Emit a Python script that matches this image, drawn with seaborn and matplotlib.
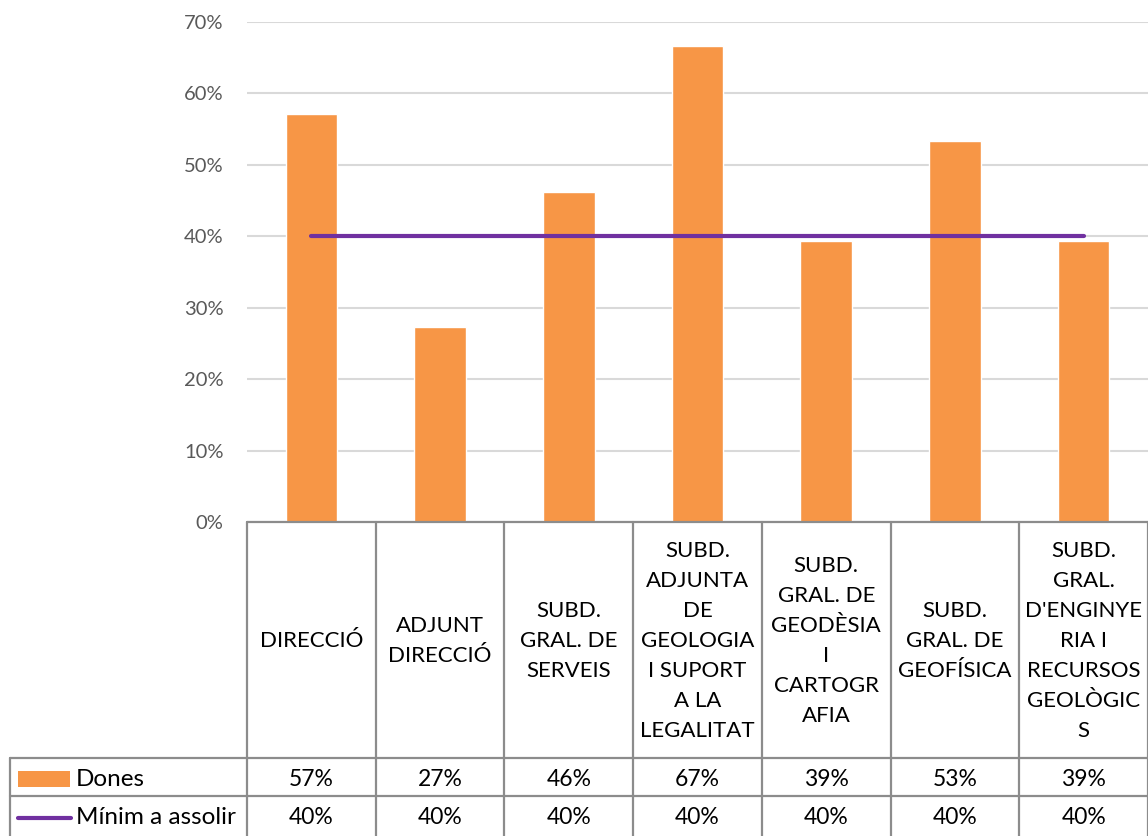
import matplotlib
matplotlib.use("Agg")
import matplotlib.pyplot as plt
from matplotlib.ticker import PercentFormatter
from matplotlib.patches import Rectangle
import seaborn as sns
import pandas as pd

# Units of the organisation (header text wraps the way it is shown in the table)
categories = [
    "DIRECCIÓ",
    "ADJUNT\nDIRECCIÓ",
    "SUBD.\nGRAL. DE\nSERVEIS",
    "SUBD.\nADJUNTA\nDE\nGEOLOGIA\nI SUPORT\nA LA\nLEGALITAT",
    "SUBD.\nGRAL. DE\nGEODÈSIA\nI\nCARTOGR\nAFIA",
    "SUBD.\nGRAL. DE\nGEOFÍSICA",
    "SUBD.\nGRAL.\nD'ENGINYE\nRIA I\nRECURSOS\nGEOLÒGIC\nS",
]
dones = [0.571, 0.273, 0.462, 0.667, 0.394, 0.533, 0.394]
minim = [0.40, 0.40, 0.40, 0.40, 0.40, 0.40, 0.40]
series_names = ["Dones", "Mínim a assolir"]
y_ticks = [0.0, 0.1, 0.2, 0.3, 0.4, 0.5, 0.6, 0.7]

ORANGE = "#F79646"
PURPLE = "#7030A0"
GRID = "#D9D9D9"
BORDER = "#8C8C8C"
TICK = "#595959"

sns.set_theme(style="white")
plt.rcParams["font.family"] = ["Lato", "DejaVu Sans"]

W, H = 1148, 836
fig = plt.figure(figsize=(W / 100, H / 100), dpi=100)

# chart area: from x=247px to the right edge, y from 22px to 522px (top-down)
ax = fig.add_axes([247 / W, (H - 522) / H, (W - 247) / W, 500 / H])
df = pd.DataFrame({"cat": categories, "val": dones})
sns.barplot(data=df, x="cat", y="val", color=ORANGE, width=0.4,
            saturation=1, ax=ax, zorder=3)
sns.lineplot(x=list(range(len(minim))), y=minim, color=PURPLE,
             linewidth=3.0, ax=ax, zorder=4, solid_capstyle="round")

ax.set_xlim(-0.5, len(categories) - 0.5)
ax.set_ylim(0, 0.7)
ax.set_yticks(y_ticks)
ax.yaxis.set_major_formatter(PercentFormatter(1.0, decimals=0))
ax.tick_params(axis="y", length=0, pad=17, labelsize=14.5, labelcolor=TICK)
ax.set_xticks([])
ax.set_xlabel("")
ax.set_ylabel("")
ax.grid(axis="y", color=GRID, linewidth=1.5, zorder=0)
for s in ax.spines.values():
    s.set_visible(False)

# data table below the chart; y measured in pixels downward from the chart base
tax = fig.add_axes([247 / W, 0, (W - 247) / W, (H - 522) / H])
tax.set_xlim(ax.get_xlim())
tax.set_ylim(H - 522, 0)
tax.axis("off")

col_w = (W - 247) / len(categories)
left_x = -0.5 + (10 - 247) / col_w
right_x = len(categories) - 0.5
header_bottom = 236
row_h = 38
row_bottoms = [header_bottom + row_h, header_bottom + 2 * row_h]

lkw = dict(color=BORDER, linewidth=1.6, clip_on=False, zorder=5)
tax.plot([-0.5, right_x], [0, 0], **lkw)
tax.plot([left_x, right_x], [header_bottom, header_bottom], **lkw)
tax.plot([left_x, right_x], [row_bottoms[0], row_bottoms[0]], **lkw)
tax.plot([left_x, left_x], [header_bottom, H - 522 + 5], **lkw)
for i in range(len(categories) + 1):
    tax.plot([i - 0.5, i - 0.5], [0, H - 522 + 5], **lkw)

for i, lab in enumerate(categories):
    tax.text(i, header_bottom / 2 + 1, lab, ha="center", va="center",
             fontsize=16, color="black", linespacing=1.63)

row_centers = [header_bottom + row_h / 2 + 2, header_bottom + row_h + row_h / 2 + 3]
for r, vals in enumerate([dones, minim]):
    for i, v in enumerate(vals):
        tax.text(i, row_centers[r], f"{v * 100:.0f}%", ha="center",
                 va="center", fontsize=16.5, color="black")

# legend keys inside the first column of the table
px = 1 / col_w
tax.add_patch(Rectangle((left_x + 8 * px, row_centers[0] - 8), 52 * px, 16,
                        facecolor=ORANGE, edgecolor="none", clip_on=False))
tax.plot([left_x + 8 * px, left_x + 61 * px], [row_centers[1], row_centers[1]],
         color=PURPLE, linewidth=3.0, solid_capstyle="round", clip_on=False)
for r, name in enumerate(series_names):
    tax.text(left_x + 66 * px, row_centers[r], name, ha="left", va="center",
             fontsize=17.5, color="black")

fig.savefig("out.png", dpi=100)
